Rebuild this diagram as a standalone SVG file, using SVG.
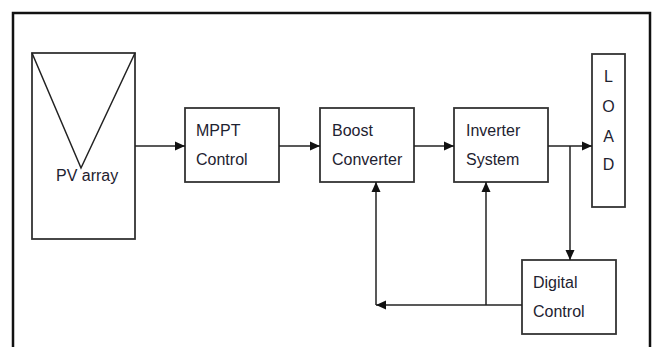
<svg xmlns="http://www.w3.org/2000/svg" width="654" height="347" viewBox="0 0 654 347">
<defs>
<style>
.box{fill:#fff;stroke:#333;stroke-width:1.8}
.ln{fill:none;stroke:#222;stroke-width:1.5}
.t{font-family:"Liberation Sans",Arial,sans-serif;font-size:16px;fill:#1e2230}
.tc{font-family:"Liberation Sans",Arial,sans-serif;font-size:16px;fill:#1e2230;text-anchor:middle}
</style>
<marker id="ah" markerUnits="userSpaceOnUse" markerWidth="10" markerHeight="10" refX="10" refY="5" orient="auto" viewBox="0 0 10 10">
<path d="M0,0.5 L10,5 L0,9.5 z" fill="#111"/>
</marker>
</defs>
<rect width="654" height="347" fill="#fff"/>
<path d="M13,350 V13 H650 V350" fill="none" stroke="#111" stroke-width="2.5"/>
<g id="pv">
<rect class="box" x="32" y="53" width="103" height="186"/>
<path d="M32,53 L81,168 L135,53" class="ln" stroke="#444"/>
<text class="t" x="56" y="181">PV array</text>
</g>
<g id="mppt">
<rect class="box" x="185" y="108" width="94" height="74"/>
<text class="t" x="196" y="136">MPPT</text>
<text class="t" x="196" y="165">Control</text>
</g>
<g id="boost">
<rect class="box" x="320" y="108" width="94" height="74"/>
<text class="t" x="332" y="136">Boost</text>
<text class="t" x="332" y="165">Converter</text>
</g>
<g id="inverter">
<rect class="box" x="454" y="108" width="94" height="74"/>
<text class="t" x="466" y="136">Inverter</text>
<text class="t" x="466" y="165">System</text>
</g>
<g id="load">
<rect class="box" x="592" y="54" width="33" height="153"/>
<text class="tc" x="608.5" y="82">L</text>
<text class="tc" x="608.5" y="112">O</text>
<text class="tc" x="608.5" y="142">A</text>
<text class="tc" x="608.5" y="170">D</text>
</g>
<g id="digital">
<rect class="box" x="522" y="260" width="94" height="74"/>
<text class="t" x="533" y="288">Digital</text>
<text class="t" x="533" y="317">Control</text>
</g>
<g id="connectors">
<path class="ln" d="M135,146 H185" marker-end="url(#ah)"/>
<path class="ln" d="M279,146 H320" marker-end="url(#ah)"/>
<path class="ln" d="M414,146 H454" marker-end="url(#ah)"/>
<path class="ln" d="M548,146 H592" marker-end="url(#ah)"/>
<path class="ln" d="M570,146 V260" marker-end="url(#ah)"/>
<path class="ln" d="M522,305 H376" marker-end="url(#ah)"/>
<path class="ln" d="M376,305 V182" marker-end="url(#ah)"/>
<path class="ln" d="M486,305 V182" marker-end="url(#ah)"/>
</g>
</svg>
